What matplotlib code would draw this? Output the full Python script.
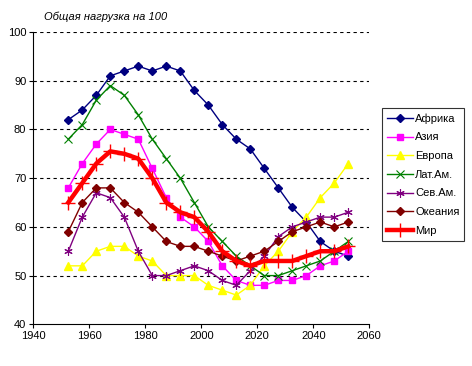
import matplotlib
matplotlib.use("Agg")
import matplotlib.pyplot as plt
import numpy as np

plt.rcParams['font.family'] = ['Liberation Sans', 'DejaVu Sans']

# mid-points of 5-year periods 1950-55 ... 2050-55
years = np.arange(1952.5, 2053, 5)

africa = [82, 84, 87, 91, 92, 93, 92, 93, 92, 88, 85, 81, 78, 76, 72, 68, 64, 61, 57, 55, 54]
asia = [68, 73, 77, 80, 79, 78, 72, 66, 62, 60, 57, 52, 49, 48, 48, 49, 49, 50, 52, 53, 55]
europe = [52, 52, 55, 56, 56, 54, 53, 50, 50, 50, 48, 47, 46, 48, 52, 55, 59, 62, 66, 69, 73]
latam = [78, 81, 86, 89, 87, 83, 78, 74, 70, 65, 60, 57, 54, 52, 50, 50, 51, 52, 53, 55, 57]
noram = [55, 62, 67, 66, 62, 55, 50, 50, 51, 52, 51, 49, 48, 51, 54, 58, 60, 61, 62, 62, 63]
oceania = [59, 65, 68, 68, 65, 63, 60, 57, 56, 56, 55, 54, 53, 54, 55, 57, 59, 60, 61, 60, 61]
world = [65, 69, 73, 75.5, 75, 74, 70, 65, 63, 62, 59, 55, 53, 52, 53, 53, 53, 54, 55, 55, 56]

labels = ["Африка", "Азия", "Европа", "Лат.Ам.", "Сев.Ам.", "Океания", "Мир"]

fig = plt.figure(figsize=(4.72, 3.66), dpi=100)
ax = fig.add_axes([33.3 / 472, 1 - 324.3 / 366, 336 / 472, 292.3 / 366])

ax.plot(years, africa, color="#000080", lw=1, marker="D", ms=4.5, label=labels[0])
ax.plot(years, asia, color="#FF00FF", lw=1, marker="s", ms=5, label=labels[1])
ax.plot(years, europe, color="#FFFF00", lw=1, marker="^", ms=5.5, label=labels[2])
ax.plot(years, latam, color="#008000", lw=1, marker="x", ms=6, mew=0.8, label=labels[3])
ax.plot(years, noram, color="#800080", lw=1, marker=(6, 2, 0), ms=6, mew=0.8, label=labels[4])
ax.plot(years, oceania, color="#800000", lw=1, marker="D", ms=4.5, label=labels[5])
ax.plot(years, world, color="#FF0000", lw=3.2, marker="+", ms=10, mew=1, label=labels[6])

ax.set_xlim(1940, 2060)
ax.set_ylim(40, 100)
ax.set_xticks(range(1940, 2061, 20))
ax.set_yticks(range(40, 101, 10))
ax.tick_params(labelsize=8, length=3, width=0.8, direction="out", pad=2)

for v in range(50, 101, 10):
    ax.axhline(v, color="black", lw=0.8, ls=(0, (3, 3)), zorder=0)

ax.spines['top'].set_visible(False)
ax.spines['right'].set_visible(False)

fig.text(106 / 472, 1 - 17 / 366, "Общая нагрузка на 100", fontsize=8,
         style="italic", ha="center", va="center")

leg = ax.legend(loc="upper left", bbox_to_anchor=(382.3 / 472, 1 - 108.3 / 366),
                bbox_transform=fig.transFigure, fontsize=8, frameon=True,
                fancybox=False, borderaxespad=0, handlelength=2.3,
                handletextpad=0.2, labelspacing=0.78, borderpad=0.45)
leg.get_frame().set_edgecolor("black")
leg.get_frame().set_linewidth(0.8)

fig.savefig("out.png", dpi=100)
plt.close(fig)
